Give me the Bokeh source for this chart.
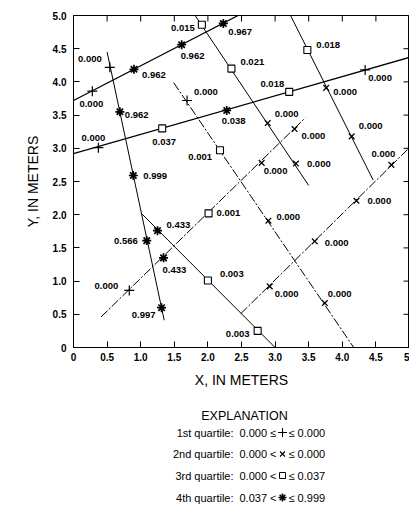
import math
from bokeh.plotting import figure
from bokeh.layouts import column
from bokeh.models import ColumnDataSource, FixedTicker
from bokeh.core.properties import value
from bokeh.embed import file_html
from bokeh.resources import INLINE

FONT = "Liberation Sans"

# ---- flow-path traces (x, y in meters) ----
path_a_x = [0.00, 2.45]
path_a_y = [3.72, 5.00]
path_b_x = [0.00, 5.00]
path_b_y = [2.92, 4.37]
path_c_x = [0.50, 1.35]
path_c_y = [4.45, 0.41]
path_d_x = [1.01, 3.00]
path_d_y = [2.02, 0.00]
path_e_x = [0.41, 3.45]
path_e_y = [0.46, 3.46]
path_f_x = [1.81, 3.50]
path_f_y = [5.00, 2.44]
path_g_x = [1.49, 4.17]
path_g_y = [3.99, 0.00]
path_h_x = [3.23, 4.46]
path_h_y = [5.00, 2.52]
path_i_x = [2.49, 5.00]
path_i_y = [0.51, 3.01]

# ---- sampled points along the traces ----
point_x = [0.28, 0.90, 1.61, 2.23,
           0.37, 1.32, 2.28, 3.21, 4.34,
           0.54, 0.69, 0.89, 1.09, 1.31,
           1.25, 2.00, 2.74,
           0.83, 1.34, 2.01, 2.80, 3.29,
           1.91, 2.35, 2.89, 3.31,
           1.69, 2.18, 2.90, 3.74,
           3.48, 3.76, 4.14,
           2.92, 3.59, 4.21, 4.73]
point_y = [3.86, 4.19, 4.56, 4.88,
           3.01, 3.30, 3.57, 3.85, 4.18,
           4.22, 3.55, 2.59, 1.61, 0.60,
           1.76, 1.01, 0.25,
           0.86, 1.35, 2.02, 2.78, 3.29,
           4.86, 4.20, 3.38, 2.77,
           3.72, 2.97, 1.91, 0.67,
           4.48, 3.91, 3.18,
           0.92, 1.60, 2.21, 2.75]
point_quartile = [1, 4, 4, 4,
                  1, 3, 4, 3, 1,
                  1, 4, 4, 4, 4,
                  4, 3, 3,
                  1, 4, 3, 2, 2,
                  3, 3, 2, 2,
                  1, 3, 2, 2,
                  3, 2, 2,
                  2, 2, 2, 2]
point_value = ["0.000", "0.962", "0.962", "0.967",
               "0.000", "0.037", "0.038", "0.018", "0.000",
               "0.000", "0.962", "0.999", "0.566", "0.997",
               "0.433", "0.003", "0.003",
               "0.000", "0.433", "0.001", "0.000", "0.000",
               "0.015", "0.021", "0.000", "0.000",
               "0.000", "0.001", "0.000", "0.000",
               "0.018", "0.000", "0.000",
               "0.000", "0.000", "0.000", "0.000"]

# label placement next to each point (screen pixels, y down)
label_dx = [-1, 8, -1, 5,
            -5, 2, 7, -5, 3,
            -8, 5, 10, -9, -6,
            9, 12, -8,
            -11, -1, 8, 2, 7,
            -7, 9, 7, 11,
            7, -8, 8, 3,
            9, 7, 7,
            5, 10, 11, -8]
label_dy = [13, 6, 11, 9,
            -10, 14, 11, -8, 8,
            -8, 3, 0, 0, 7,
            -6, -6, 3,
            -4, 12, 0, 8, 7,
            3, -7, -9, 0,
            -8, 7, -4, -9,
            -5, 4, -10,
            8, 2, 0, -11]
label_align = ["center", "left", "left", "left",
               "center", "center", "center", "right", "left",
               "right", "left", "left", "right", "right",
               "left", "left", "right",
               "right", "left", "left", "left", "left",
               "right", "left", "left", "left",
               "left", "right", "left", "left",
               "left", "left", "left",
               "left", "left", "left", "center"]

# ---- axes ----
x_ticks = [0, 0.5, 1.0, 1.5, 2.0, 2.5, 3.0, 3.5, 4.0, 4.5, 5.0]
x_tick_labels = ["0", "0.5", "1.0", "1.5", "2.0", "2.5", "3.0", "3.5", "4.0", "4.5", "5"]
y_ticks = [0, 0.5, 1.0, 1.5, 2.0, 2.5, 3.0, 3.5, 4.0, 4.5, 5.0]
y_tick_labels = ["0", "0.5", "1.0", "1.5", "2.0", "2.5", "3.0", "3.5", "4.0", "4.5", "5.0"]

# ---- explanation ----
quartile_names = ["1st quartile:", "2nd quartile:", "3rd quartile:", "4th quartile:"]
quartile_low = ["0.000", "0.000", "0.000", "0.037"]
quartile_low_op = ["\u2264", "<", "<", "<"]
quartile_high = ["0.000", "0.000", "0.037", "0.999"]

marker_of = {1: "cross", 2: "x", 3: "square", 4: "asterisk"}
size_of = {1: 10, 2: 8, 3: 7, 4: 9}
width_of = {1: 1.2, 2: 1.3, 3: 1.1, 4: 1.7}

X_END, Y_END = 5.0, 5.0
LEFT = 73

p = figure(width=409, height=392, x_range=(0, X_END), y_range=(0, Y_END),
           toolbar_location=None, output_backend="svg", title=None,
           min_border_left=LEFT, min_border_right=0, min_border_top=15,
           min_border_bottom=45)
p.grid.visible = False
p.outline_line_color = "black"
p.outline_line_width = 1
p.background_fill_color = "white"
p.border_fill_color = "white"

paths = [
    (path_a_x, path_a_y, None, 1.3),
    (path_b_x, path_b_y, None, 1.3),
    (path_c_x, path_c_y, None, 1.0),
    (path_d_x, path_d_y, None, 1.0),
    (path_e_x, path_e_y, "9 2 2 2", 1.0),
    (path_f_x, path_f_y, None, 1.0),
    (path_g_x, path_g_y, "9 2 2 2", 1.0),
    (path_h_x, path_h_y, None, 1.0),
    (path_i_x, path_i_y, "9 2 2 2", 1.0),
]
for xs, ys, dash, lw in paths:
    kw = dict(line_color="black", line_width=lw)
    if dash:
        kw["line_dash"] = dash
    p.line(xs, ys, **kw)

for q in (1, 2, 3, 4):
    idx = [i for i, v in enumerate(point_quartile) if v == q]
    src = ColumnDataSource(dict(x=[point_x[i] for i in idx], y=[point_y[i] for i in idx]))
    p.scatter("x", "y", source=src, marker=marker_of[q], size=size_of[q],
              line_color="black", line_width=width_of[q],
              fill_color="white" if q == 3 else None)

for i in range(len(point_x)):
    p.text(x=[point_x[i]], y=[point_y[i]], text=[point_value[i]],
           x_offset=label_dx[i], y_offset=label_dy[i],
           text_align=label_align[i], text_baseline="middle",
           text_font=value(FONT), text_font_size="9.5px",
           text_font_style="bold", text_color="black")

for ax, ticks, labels in ((p.xaxis[0], x_ticks, x_tick_labels),
                          (p.yaxis[0], y_ticks, y_tick_labels)):
    ax.ticker = FixedTicker(ticks=ticks)
    ax.major_label_overrides = {float(t): s for t, s in zip(ticks, labels)}
    ax.major_tick_in = 6
    ax.major_tick_out = 0
    ax.minor_tick_line_color = None
    ax.axis_line_color = "black"
    ax.major_label_text_font = FONT
    ax.major_label_text_font_size = "10px"
    ax.major_label_text_font_style = "bold"
    ax.major_label_text_color = "black"
    ax.axis_label_text_font = FONT
    ax.axis_label_text_font_size = "14px"
    ax.axis_label_text_font_style = "normal"
    ax.axis_label_text_color = "black"

p.xaxis.axis_label = "X, IN METERS"
p.yaxis.axis_label = "Y, IN METERS"
p.xaxis.major_label_standoff = 5
p.xaxis.axis_label_standoff = 8
p.yaxis.major_label_standoff = 7
p.yaxis.axis_label_standoff = 9

# inward tick marks along the top and right edges of the frame
p.scatter(x_ticks, [Y_END] * len(x_ticks), marker="dash", angle=math.pi / 2,
          size=12, line_color="black", line_width=1)
p.scatter([X_END] * len(y_ticks), y_ticks, marker="dash", size=12,
          line_color="black", line_width=1)

# ---- explanation panel (coordinates are page pixels) ----
leg = figure(width=409, height=121, x_range=(LEFT, 409), y_range=(121, 0),
             toolbar_location=None, output_backend="svg", title=None,
             x_axis_location=None, y_axis_location=None,
             min_border_left=LEFT, min_border_right=0,
             min_border_top=0, min_border_bottom=0)
leg.grid.visible = False
leg.outline_line_color = None
leg.background_fill_color = "white"
leg.border_fill_color = "white"

leg.text(x=[244], y=[23], text=["EXPLANATION"], text_align="center",
         text_baseline="middle", text_font=value(FONT), text_font_size="12.5px",
         text_color="black")

LEG_SIZE = "11px"
row_y = [40, 61.5, 83, 105]
leg.text(x=[233] * 4, y=row_y, text=quartile_names, text_align="right",
         text_baseline="middle", text_font=value(FONT), text_font_size=LEG_SIZE,
         text_color="black")
leg.text(x=[239] * 4, y=row_y, text=[f"{a} {b}" for a, b in zip(quartile_low, quartile_low_op)],
         text_align="left", text_baseline="middle", text_font=value(FONT),
         text_font_size=LEG_SIZE, text_color="black")
leg.text(x=[288] * 4, y=row_y, text=["\u2264  " + h for h in quartile_high],
         text_align="left", text_baseline="middle", text_font=value(FONT),
         text_font_size=LEG_SIZE, text_color="black")
for q, yy in zip((1, 2, 3, 4), row_y):
    leg.scatter([282], [yy], marker=marker_of[q], size=size_of[q] - 1,
                line_color="black", line_width=width_of[q] * 0.9,
                fill_color="white" if q == 3 else None)

layout = column(p, leg, spacing=0)
open("out.html", "w").write(file_html(layout, INLINE))
